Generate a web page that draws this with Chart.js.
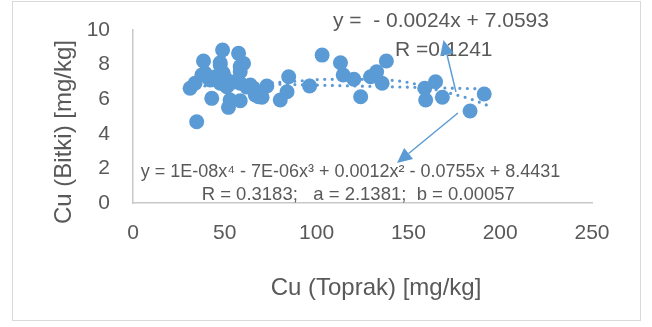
<!DOCTYPE html>
<html>
<head>
<meta charset="utf-8">
<script src="https://cdn.jsdelivr.net/npm/chart.js@4.4.1/dist/chart.umd.min.js"></script>
<style>
  html, body { margin: 0; padding: 0; background: #fff; }
  #wrap { width: 652px; height: 327px; }
</style>
</head>
<body>
<div id="wrap"><canvas id="grafico" width="652" height="327"></canvas></div>
<script>
  // --- Datos ---
  const cuToprak = [31.1, 34.7, 38.4, 42.9, 48.8, 47.5, 57.5, 60.2, 52.0, 58.4, 66.6, 70.3, 72.9, 80.2, 83.9, 84.8,
    96.2, 103.0, 113.0, 114.5, 120.3, 124.0, 129.4, 132.7, 135.7, 138.0, 158.9, 159.4, 164.8, 168.5, 183.6, 191.3,
    49.2, 58.4, 39.3, 42.0, 33.8, 47.5, 51.1, 58.4, 65.6, 37.5, 47.5, 58.4, 51.1, 63.9, 68.4, 52.9, 45.0, 55.0, 62.0];
  const cuBitki = [6.63, 4.70, 8.21, 6.05, 8.84, 8.11, 8.65, 8.07, 5.53, 5.91, 6.24, 6.11, 6.76, 5.95, 6.43, 7.30,
    6.76, 8.55, 8.11, 7.40, 7.15, 6.14, 7.30, 7.59, 6.92, 8.21, 6.63, 5.95, 7.01, 6.11, 5.32, 6.30,
    7.50, 7.59, 7.50, 7.11, 6.92, 6.92, 6.72, 6.92, 6.63, 7.40, 7.98, 7.88, 7.11, 6.82, 6.14, 5.95, 7.30, 7.00, 6.70];

  // lineal: y = -0.0024x + 7.0593 (extremos leidos)
  const linealX = [31, 194];
  const linealY = [6.98, 6.59];

  // polinomica orden 4
  const poliX = [31, 50, 70, 90, 105, 125, 145, 155, 165, 176, 185, 194];
  const poliY = [6.75, 6.80, 6.90, 7.05, 7.15, 7.15, 7.05, 6.85, 6.55, 6.25, 5.97, 5.60];

  const xTicks = [0, 50, 100, 150, 200, 250];
  const yTicks = [0, 2, 4, 6, 8, 10];

  const tituloX = 'Cu (Toprak) [mg/kg]';
  const tituloY = 'Cu (Bitki) [mg/kg]';

  // textos de ecuaciones: [texto, x, y, tamaño]
  const etiquetas = [
    ['y =  - 0.0024x + 7.0593', 108.9, 10.16, 21],
    ['R =0.1241', 142.7, 8.50, 21],
    ['y = 1E-08x\u2074 - 7E-06x\u00b3 + 0.0012x\u00b2 - 0.0755x + 8.4431', 4.2, 1.52, 18],
    ['R = 0.3183;   a = 2.1381;  b = 0.00057', 37.4, 0.17, 18.5]
  ];

  // flechas: [x0, y0, x1 (punta), y1]
  const flechas = [
    [175.9, 6.42, 169.1, 9.42],
    [177.0, 5.20, 143.8, 2.31]
  ];

  const AZUL = '#5b9bd5';
  const GRIS = '#595959';
  const FUENTE = '"Liberation Sans", Arial, sans-serif';

  const zip = (xs, ys) => xs.map((x, i) => ({ x, y: ys[i] }));

  const extras = {
    id: 'extras',
    afterDraw(chart) {
      const { ctx, scales: { x, y } } = chart;
      ctx.save();

      // borde exterior
      ctx.strokeStyle = '#d9d9d9';
      ctx.lineWidth = 1;
      ctx.strokeRect(12.5, 1.5, 628, 319);

      // textos
      ctx.fillStyle = GRIS;
      ctx.textBaseline = 'alphabetic';
      ctx.textAlign = 'left';
      etiquetas.forEach(([t, dx, dy, s]) => {
        ctx.font = `${s}px ${FUENTE}`;
        ctx.fillText(t, x.getPixelForValue(dx), y.getPixelForValue(dy));
      });

      // titulos de ejes
      ctx.font = `24px ${FUENTE}`;
      ctx.textAlign = 'center';
      ctx.fillText(tituloX, 376, 295);
      ctx.save();
      ctx.translate(71, 132);
      ctx.rotate(-Math.PI / 2);
      ctx.fillText(tituloY, 0, 0);
      ctx.restore();

      // flechas
      ctx.strokeStyle = AZUL;
      ctx.fillStyle = AZUL;
      ctx.lineWidth = 1.5;
      flechas.forEach(([a, b, c, d]) => {
        const x0 = x.getPixelForValue(a), y0 = y.getPixelForValue(b);
        const x1 = x.getPixelForValue(c), y1 = y.getPixelForValue(d);
        const ang = Math.atan2(y1 - y0, x1 - x0);
        const L = 15, W = 7;
        const bx = x1 - L * Math.cos(ang), by = y1 - L * Math.sin(ang);
        ctx.beginPath();
        ctx.moveTo(x0, y0);
        ctx.lineTo(bx, by);
        ctx.stroke();
        ctx.beginPath();
        ctx.moveTo(x1, y1);
        ctx.lineTo(bx + W * Math.sin(ang), by - W * Math.cos(ang));
        ctx.lineTo(bx - W * Math.sin(ang), by + W * Math.cos(ang));
        ctx.closePath();
        ctx.fill();
      });

      ctx.restore();
    }
  };

  new Chart(document.getElementById('grafico'), {
    type: 'scatter',
    data: {
      datasets: [
        {
          label: 'Cu',
          data: zip(cuToprak, cuBitki),
          backgroundColor: AZUL,
          borderColor: AZUL,
          borderWidth: 0,
          pointRadius: 7.5
        },
        {
          label: 'Lineal',
          data: zip(linealX, linealY),
          showLine: true,
          borderColor: AZUL,
          borderWidth: 3.2,
          borderDash: [0, 7.5],
          borderCapStyle: 'round',
          pointRadius: 0
        },
        {
          label: 'Polinomica',
          data: zip(poliX, poliY),
          showLine: true,
          borderColor: AZUL,
          borderWidth: 3.2,
          borderDash: [0, 7.5],
          borderCapStyle: 'round',
          cubicInterpolationMode: 'monotone',
          pointRadius: 0
        }
      ]
    },
    options: {
      responsive: false,
      animation: false,
      devicePixelRatio: 1,
      layout: { padding: { left: 0, top: 30, right: 60, bottom: 0 } },
      plugins: { legend: { display: false }, tooltip: { enabled: false } },
      scales: {
        x: {
          type: 'linear', min: 0, max: 250,
          afterBuildTicks: s => { s.ticks = xTicks.map(v => ({ value: v })); },
          afterFit: s => { s.height = 124; },
          grid: { display: false },
          border: { display: true, color: '#c8c8c8', width: 1.5 },
          ticks: { color: GRIS, font: { family: FUENTE, size: 21 }, padding: 10, maxRotation: 0 }
        },
        y: {
          type: 'linear', min: 0, max: 10,
          afterBuildTicks: s => { s.ticks = yTicks.map(v => ({ value: v })); },
          afterFit: s => { s.width = 133; },
          grid: { display: false },
          border: { display: true, color: '#c8c8c8', width: 1.5 },
          ticks: { color: GRIS, font: { family: FUENTE, size: 21 }, padding: 15 }
        }
      }
    },
    plugins: [extras]
  });
</script>
</body>
</html>
